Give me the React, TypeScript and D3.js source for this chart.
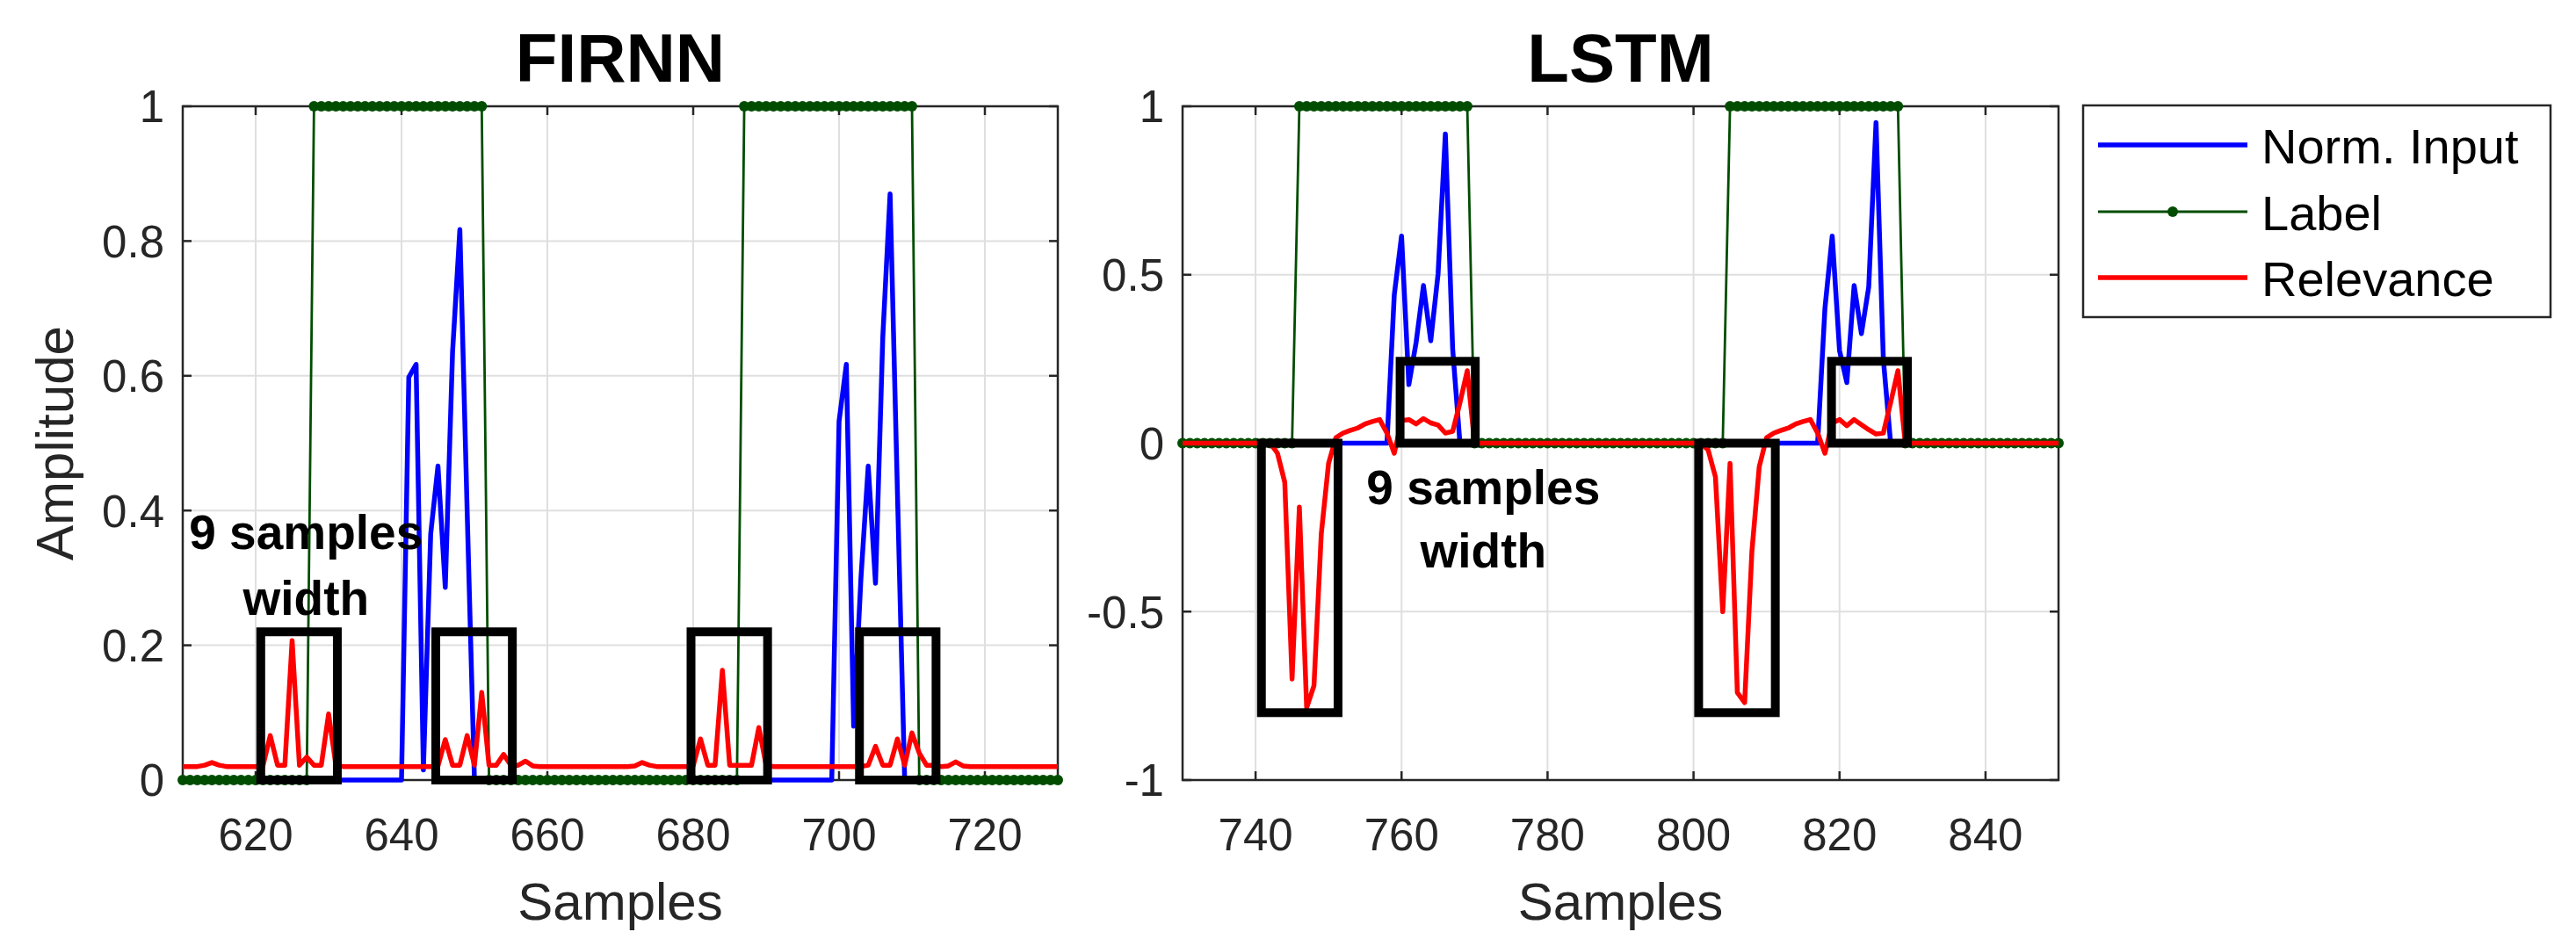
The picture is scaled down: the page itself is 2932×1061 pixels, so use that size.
import * as d3 from 'd3';
import React from 'react';

const FONT = '"Liberation Sans", Arial, Helvetica, sans-serif';

// ---- FIRNN panel: samples 610..730 ----
const firStart = 610;
const firInput = [
  0, 0, 0, 0, 0, 0, 0, 0, 0, 0,
  0, 0, 0, 0, 0, 0, 0, 0, 0, 0,
  0, 0, 0, 0, 0, 0, 0, 0, 0, 0,
  0, 0.598, 0.617, 0.015, 0.365, 0.466, 0.286, 0.635, 0.817, 0.4,
  0, 0, 0, 0, 0, 0, 0, 0, 0, 0,
  0, 0, 0, 0, 0, 0, 0, 0, 0, 0,
  0, 0, 0, 0, 0, 0, 0, 0, 0, 0,
  0, 0, 0, 0, 0, 0, 0, 0, 0, 0,
  0, 0, 0, 0, 0, 0, 0, 0, 0, 0,
  0.532, 0.617, 0.08, 0.299, 0.466, 0.292, 0.658, 0.87, 0.43, 0,
  0, 0, 0, 0, 0, 0, 0, 0, 0, 0,
  0, 0, 0, 0, 0, 0, 0, 0, 0, 0,
  0,
];
const firLabel = [
  0, 0, 0, 0, 0, 0, 0, 0, 0, 0,
  0, 0, 0, 0, 0, 0, 0, 0, 1, 1,
  1, 1, 1, 1, 1, 1, 1, 1, 1, 1,
  1, 1, 1, 1, 1, 1, 1, 1, 1, 1,
  1, 1, 0, 0, 0, 0, 0, 0, 0, 0,
  0, 0, 0, 0, 0, 0, 0, 0, 0, 0,
  0, 0, 0, 0, 0, 0, 0, 0, 0, 0,
  0, 0, 0, 0, 0, 0, 0, 1, 1, 1,
  1, 1, 1, 1, 1, 1, 1, 1, 1, 1,
  1, 1, 1, 1, 1, 1, 1, 1, 1, 1,
  1, 0, 0, 0, 0, 0, 0, 0, 0, 0,
  0, 0, 0, 0, 0, 0, 0, 0, 0, 0,
  0,
];
const firRelevance = [
  0.02, 0.02, 0.02, 0.022, 0.026, 0.022, 0.02, 0.02, 0.02, 0.02,
  0.02, 0.021, 0.066, 0.022, 0.022, 0.207, 0.022, 0.034, 0.022, 0.022,
  0.098, 0.022, 0.02, 0.02, 0.02, 0.02, 0.02, 0.02, 0.02, 0.02,
  0.02, 0.02, 0.02, 0.02, 0.02, 0.021, 0.06, 0.022, 0.022, 0.066,
  0.022, 0.13, 0.022, 0.022, 0.038, 0.022, 0.022, 0.028, 0.021, 0.02,
  0.02, 0.02, 0.02, 0.02, 0.02, 0.02, 0.02, 0.02, 0.02, 0.02,
  0.02, 0.02, 0.021, 0.026, 0.022, 0.02, 0.02, 0.02, 0.02, 0.02,
  0.021, 0.061, 0.022, 0.022, 0.163, 0.022, 0.022, 0.022, 0.022, 0.078,
  0.022, 0.02, 0.02, 0.02, 0.02, 0.02, 0.02, 0.02, 0.02, 0.02,
  0.02, 0.02, 0.02, 0.02, 0.022, 0.05, 0.022, 0.022, 0.061, 0.022,
  0.07, 0.04, 0.022, 0.022, 0.02, 0.021, 0.027, 0.021, 0.02, 0.02,
  0.02, 0.02, 0.02, 0.02, 0.02, 0.02, 0.02, 0.02, 0.02, 0.02,
  0.02,
];
// [x0, x1, y0, y1] in data units
const firBoxes = [
  [620.7, 631.2, 0, 0.22],
  [644.7, 655.2, 0, 0.22],
  [679.7, 690.2, 0, 0.22],
  [702.8, 713.3, 0, 0.22],
];
const firXTicks = [620, 640, 660, 680, 700, 720];
const firYTicks = [0, 0.2, 0.4, 0.6, 0.8, 1];
const firYTickLabels = ['0', '0.2', '0.4', '0.6', '0.8', '1'];

// ---- LSTM panel: samples 730..850 ----
const lstmStart = 730;
const lstmInput = [
  0, 0, 0, 0, 0, 0, 0, 0, 0, 0,
  0, 0, 0, 0, 0, 0, 0, 0, 0, 0,
  0, 0, 0, 0, 0, 0, 0, 0, 0, 0.44,
  0.615, 0.174, 0.3, 0.468, 0.304, 0.502, 0.918, 0.28, 0, 0,
  0, 0, 0, 0, 0, 0, 0, 0, 0, 0,
  0, 0, 0, 0, 0, 0, 0, 0, 0, 0,
  0, 0, 0, 0, 0, 0, 0, 0, 0, 0,
  0, 0, 0, 0, 0, 0, 0, 0, 0, 0,
  0, 0, 0, 0, 0, 0, 0, 0, 0.4, 0.615,
  0.275, 0.18, 0.468, 0.325, 0.464, 0.952, 0.25, 0, 0, 0,
  0, 0, 0, 0, 0, 0, 0, 0, 0, 0,
  0, 0, 0, 0, 0, 0, 0, 0, 0, 0,
  0,
];
const lstmLabel = [
  0, 0, 0, 0, 0, 0, 0, 0, 0, 0,
  0, 0, 0, 0, 0, 0, 1, 1, 1, 1,
  1, 1, 1, 1, 1, 1, 1, 1, 1, 1,
  1, 1, 1, 1, 1, 1, 1, 1, 1, 1,
  0, 0, 0, 0, 0, 0, 0, 0, 0, 0,
  0, 0, 0, 0, 0, 0, 0, 0, 0, 0,
  0, 0, 0, 0, 0, 0, 0, 0, 0, 0,
  0, 0, 0, 0, 0, 1, 1, 1, 1, 1,
  1, 1, 1, 1, 1, 1, 1, 1, 1, 1,
  1, 1, 1, 1, 1, 1, 1, 1, 1, 0,
  0, 0, 0, 0, 0, 0, 0, 0, 0, 0,
  0, 0, 0, 0, 0, 0, 0, 0, 0, 0,
  0,
];
const lstmRelevance = [
  0, 0, 0, 0, 0, 0, 0, 0, 0, 0,
  0, 0, 0, -0.03, -0.116, -0.7, -0.19, -0.785, -0.72, -0.27,
  -0.06, 0.016, 0.03, 0.038, 0.045, 0.057, 0.064, 0.07, 0.03, -0.03,
  0.067, 0.07, 0.057, 0.073, 0.06, 0.054, 0.03, 0.035, 0.12, 0.215,
  0, 0, 0, 0, 0, 0, 0, 0, 0, 0,
  0, 0, 0, 0, 0, 0, 0, 0, 0, 0,
  0, 0, 0, 0, 0, 0, 0, 0, 0, 0,
  0, 0, -0.02, -0.1, -0.5, -0.06, -0.74, -0.77, -0.32, -0.07,
  0.016, 0.03, 0.038, 0.045, 0.057, 0.064, 0.07, 0.03, -0.03, 0.06,
  0.07, 0.052, 0.07, 0.055, 0.04, 0.027, 0.03, 0.12, 0.215, 0,
  0, 0, 0, 0, 0, 0, 0, 0, 0, 0,
  0, 0, 0, 0, 0, 0, 0, 0, 0, 0,
  0,
];
const lstmBoxes = [
  [740.8, 751.3, -0.8, 0],
  [759.8, 770.1, 0, 0.243],
  [800.7, 811.2, -0.8, 0],
  [818.9, 829.3, 0, 0.243],
];
const lstmXTicks = [740, 760, 780, 800, 820, 840];
const lstmYTicks = [-1, -0.5, 0, 0.5, 1];
const lstmYTickLabels = ['-1', '-0.5', '0', '0.5', '1'];

const legendNames = ['Norm. Input', 'Label', 'Relevance'];

const BLUE = '#0000ff';
const GREEN = '#004d00';
const RED = '#ff0000';
const AXIS = '#262626';
const GRID = '#dfdfdf';

const Panel = (p) => {
  const { left, right, top, bottom, xDomain, yDomain, xTicks, yTicks, yTickLabels,
    start, input, label, relevance, boxes, title, note, yLabel } = p;
  const x = d3.scaleLinear().domain(xDomain).range([left, right]);
  const y = d3.scaleLinear().domain(yDomain).range([bottom, top]);
  const line = d3.line<number>()
    .x((_, i) => x(start + i))
    .y((d) => y(d));
  const cx = (left + right) / 2;

  return (
    <g>
      {/* grid */}
      {xTicks.map((t) => (
        <line key={'gx' + t} x1={x(t)} x2={x(t)} y1={top} y2={bottom} stroke={GRID} strokeWidth={2} />
      ))}
      {yTicks.map((t) => (
        <line key={'gy' + t} x1={left} x2={right} y1={y(t)} y2={y(t)} stroke={GRID} strokeWidth={2} />
      ))}
      {/* axes box + inward ticks */}
      <rect x={left} y={top} width={right - left} height={bottom - top} fill="none" stroke={AXIS} strokeWidth={2.5} />
      {xTicks.map((t) => (
        <g key={'tx' + t} stroke={AXIS} strokeWidth={2.5}>
          <line x1={x(t)} x2={x(t)} y1={bottom} y2={bottom - 10} />
          <line x1={x(t)} x2={x(t)} y1={top} y2={top + 10} />
        </g>
      ))}
      {yTicks.map((t) => (
        <g key={'ty' + t} stroke={AXIS} strokeWidth={2.5}>
          <line x1={left} x2={left + 10} y1={y(t)} y2={y(t)} />
          <line x1={right} x2={right - 10} y1={y(t)} y2={y(t)} />
        </g>
      ))}
      {/* tick labels */}
      {xTicks.map((t) => (
        <text key={'lx' + t} x={x(t)} y={968} textAnchor="middle" fontSize={51} fill={AXIS} fontFamily={FONT}>{t}</text>
      ))}
      {yTicks.map((t, i) => (
        <text key={'ly' + t} x={left - 21} y={y(t)} dy="0.36em" textAnchor="end" fontSize={51} fill={AXIS} fontFamily={FONT}>{yTickLabels[i]}</text>
      ))}

      {/* series */}
      <path d={line(input) || ''} fill="none" stroke={BLUE} strokeWidth={5.5} strokeLinejoin="round" />
      <path d={line(label) || ''} fill="none" stroke={GREEN} strokeWidth={2.8} />
      {label.map((v, i) => (
        <circle key={'m' + i} cx={x(start + i)} cy={y(v)} r={6} fill={GREEN} />
      ))}
      <path d={line(relevance) || ''} fill="none" stroke={RED} strokeWidth={5.5} strokeLinejoin="round" />

      {/* highlight boxes */}
      {boxes.map((b, i) => (
        <rect key={'b' + i} x={x(b[0])} y={y(b[3])} width={x(b[1]) - x(b[0])} height={y(b[2]) - y(b[3])}
          fill="none" stroke="#000" strokeWidth={10} />
      ))}

      {/* annotation */}
      <text x={x(note.x)} y={y(note.y1)} textAnchor="middle" fontSize={55} fontWeight="bold" fontFamily={FONT} fill="#000">9 samples</text>
      <text x={x(note.x)} y={y(note.y2)} textAnchor="middle" fontSize={55} fontWeight="bold" fontFamily={FONT} fill="#000">width</text>

      {/* titles / labels */}
      <text x={cx} y={93} textAnchor="middle" fontSize={78} fontWeight="bold" fontFamily={FONT} fill="#000">{title}</text>
      <text x={cx} y={1047} textAnchor="middle" fontSize={60} fontFamily={FONT} fill={AXIS}>Samples</text>
      {yLabel && (
        <text transform={`translate(83, ${(top + bottom) / 2}) rotate(-90)`} textAnchor="middle" fontSize={60} fontFamily={FONT} fill={AXIS}>{yLabel}</text>
      )}
    </g>
  );
};

const Legend = () => {
  const rows = [165, 241, 316];
  const colors = [BLUE, GREEN, RED];
  return (
    <g>
      <rect x={2371} y={120} width={532} height={241} fill="#fff" stroke={AXIS} strokeWidth={2.5} />
      {legendNames.map((n, i) => (
        <g key={n}>
          <line x1={2388} x2={2558} y1={rows[i]} y2={rows[i]} stroke={colors[i]} strokeWidth={i === 1 ? 2.8 : 5.5} />
          {i === 1 && <circle cx={2473} cy={rows[i]} r={6} fill={GREEN} />}
          <text x={2574} y={rows[i] + 21} fontSize={56} fontFamily={FONT} fill="#000">{n}</text>
        </g>
      ))}
    </g>
  );
};

export default function App() {
  return (
    <svg width={2932} height={1061} style={{ position: 'absolute', left: 0, top: 0, background: '#fff' }}>
      <rect width={2932} height={1061} fill="#fff" />
      <Panel
        left={208} right={1204} top={121} bottom={888}
        xDomain={[610, 730]} yDomain={[0, 1]}
        xTicks={firXTicks} yTicks={firYTicks} yTickLabels={firYTickLabels}
        start={firStart} input={firInput} label={firLabel} relevance={firRelevance}
        boxes={firBoxes} title="FIRNN" yLabel="Amplitude"
        note={{ x: 626.9, y1: 0.343, y2: 0.245 }}
      />
      <Panel
        left={1346} right={2343} top={121} bottom={888}
        xDomain={[730, 850]} yDomain={[-1, 1]}
        xTicks={lstmXTicks} yTicks={lstmYTicks} yTickLabels={lstmYTickLabels}
        start={lstmStart} input={lstmInput} label={lstmLabel} relevance={lstmRelevance}
        boxes={lstmBoxes} title="LSTM"
        note={{ x: 771.2, y1: -0.181, y2: -0.37 }}
      />
      <Legend />
    </svg>
  );
}
